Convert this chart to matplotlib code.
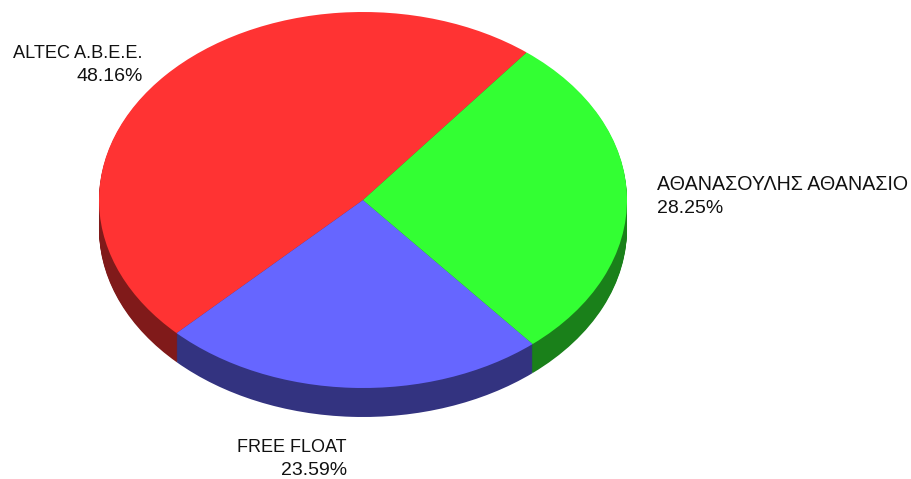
import matplotlib
matplotlib.use('Agg')
import matplotlib.pyplot as plt

# shareholders, counter clockwise starting from the red/green border
names = ['ALTEC A.B.E.E.', 'FREE FLOAT', 'ΑΘΑΝΑΣΟΥΛΗΣ ΑΘΑΝΑΣΙΟ']
shares = [48.16, 23.59, 28.25]
top_colors = ['#FF3333', '#6666FF', '#33FF33']
side_colors = ['#801A1A', '#333380', '#1A801A']

W, H = 912, 479
CX, CY = 363, 200   # pie centre in pixels
RX, RY = 264, 188   # ellipse radii in pixels
DEPTH = 29
START = 51.7

plt.rcParams['font.family'] = ['Liberation Sans', 'DejaVu Sans']

fig = plt.figure(figsize=(W / 100, H / 100), dpi=100)
ax = fig.add_axes([0, 0, 1, 1])

# side of the pie: stack of dark pies, one per pixel of depth
for i in range(DEPTH, 0, -1):
    ax.pie(shares, colors=side_colors, startangle=START, center=(0, -i / RY),
           radius=1, frame=True)
ax.pie(shares, colors=top_colors, startangle=START, center=(0, 0), radius=1, frame=True)

# pie() forces equal aspect, undo that so the circle gets squashed
ax.set_aspect('auto')
ax.set_xlim(-CX / RX, (W - CX) / RX)
ax.set_ylim(-(H - CY) / RY, CY / RY)
ax.axis('off')


def label(px, py, name, share, ha, name_size):
    # px, py are pixels from the top left, two separate lines so the sizes can differ
    ax.text(px / W, 1 - py / H, name, transform=ax.transAxes, ha=ha, va='center',
            fontsize=name_size, color='#111111')
    ax.text(px / W, 1 - (py + 23) / H, '%.2f%%' % share, transform=ax.transAxes, ha=ha,
            va='center', fontsize=14, color='#111111')


label(143, 53.5, names[0], shares[0], 'right', 13.1)
label(347, 447.5, names[1], shares[1], 'right', 13)
label(657, 185, names[2], shares[2], 'left', 14.1)

fig.savefig('out.png', dpi=100)
